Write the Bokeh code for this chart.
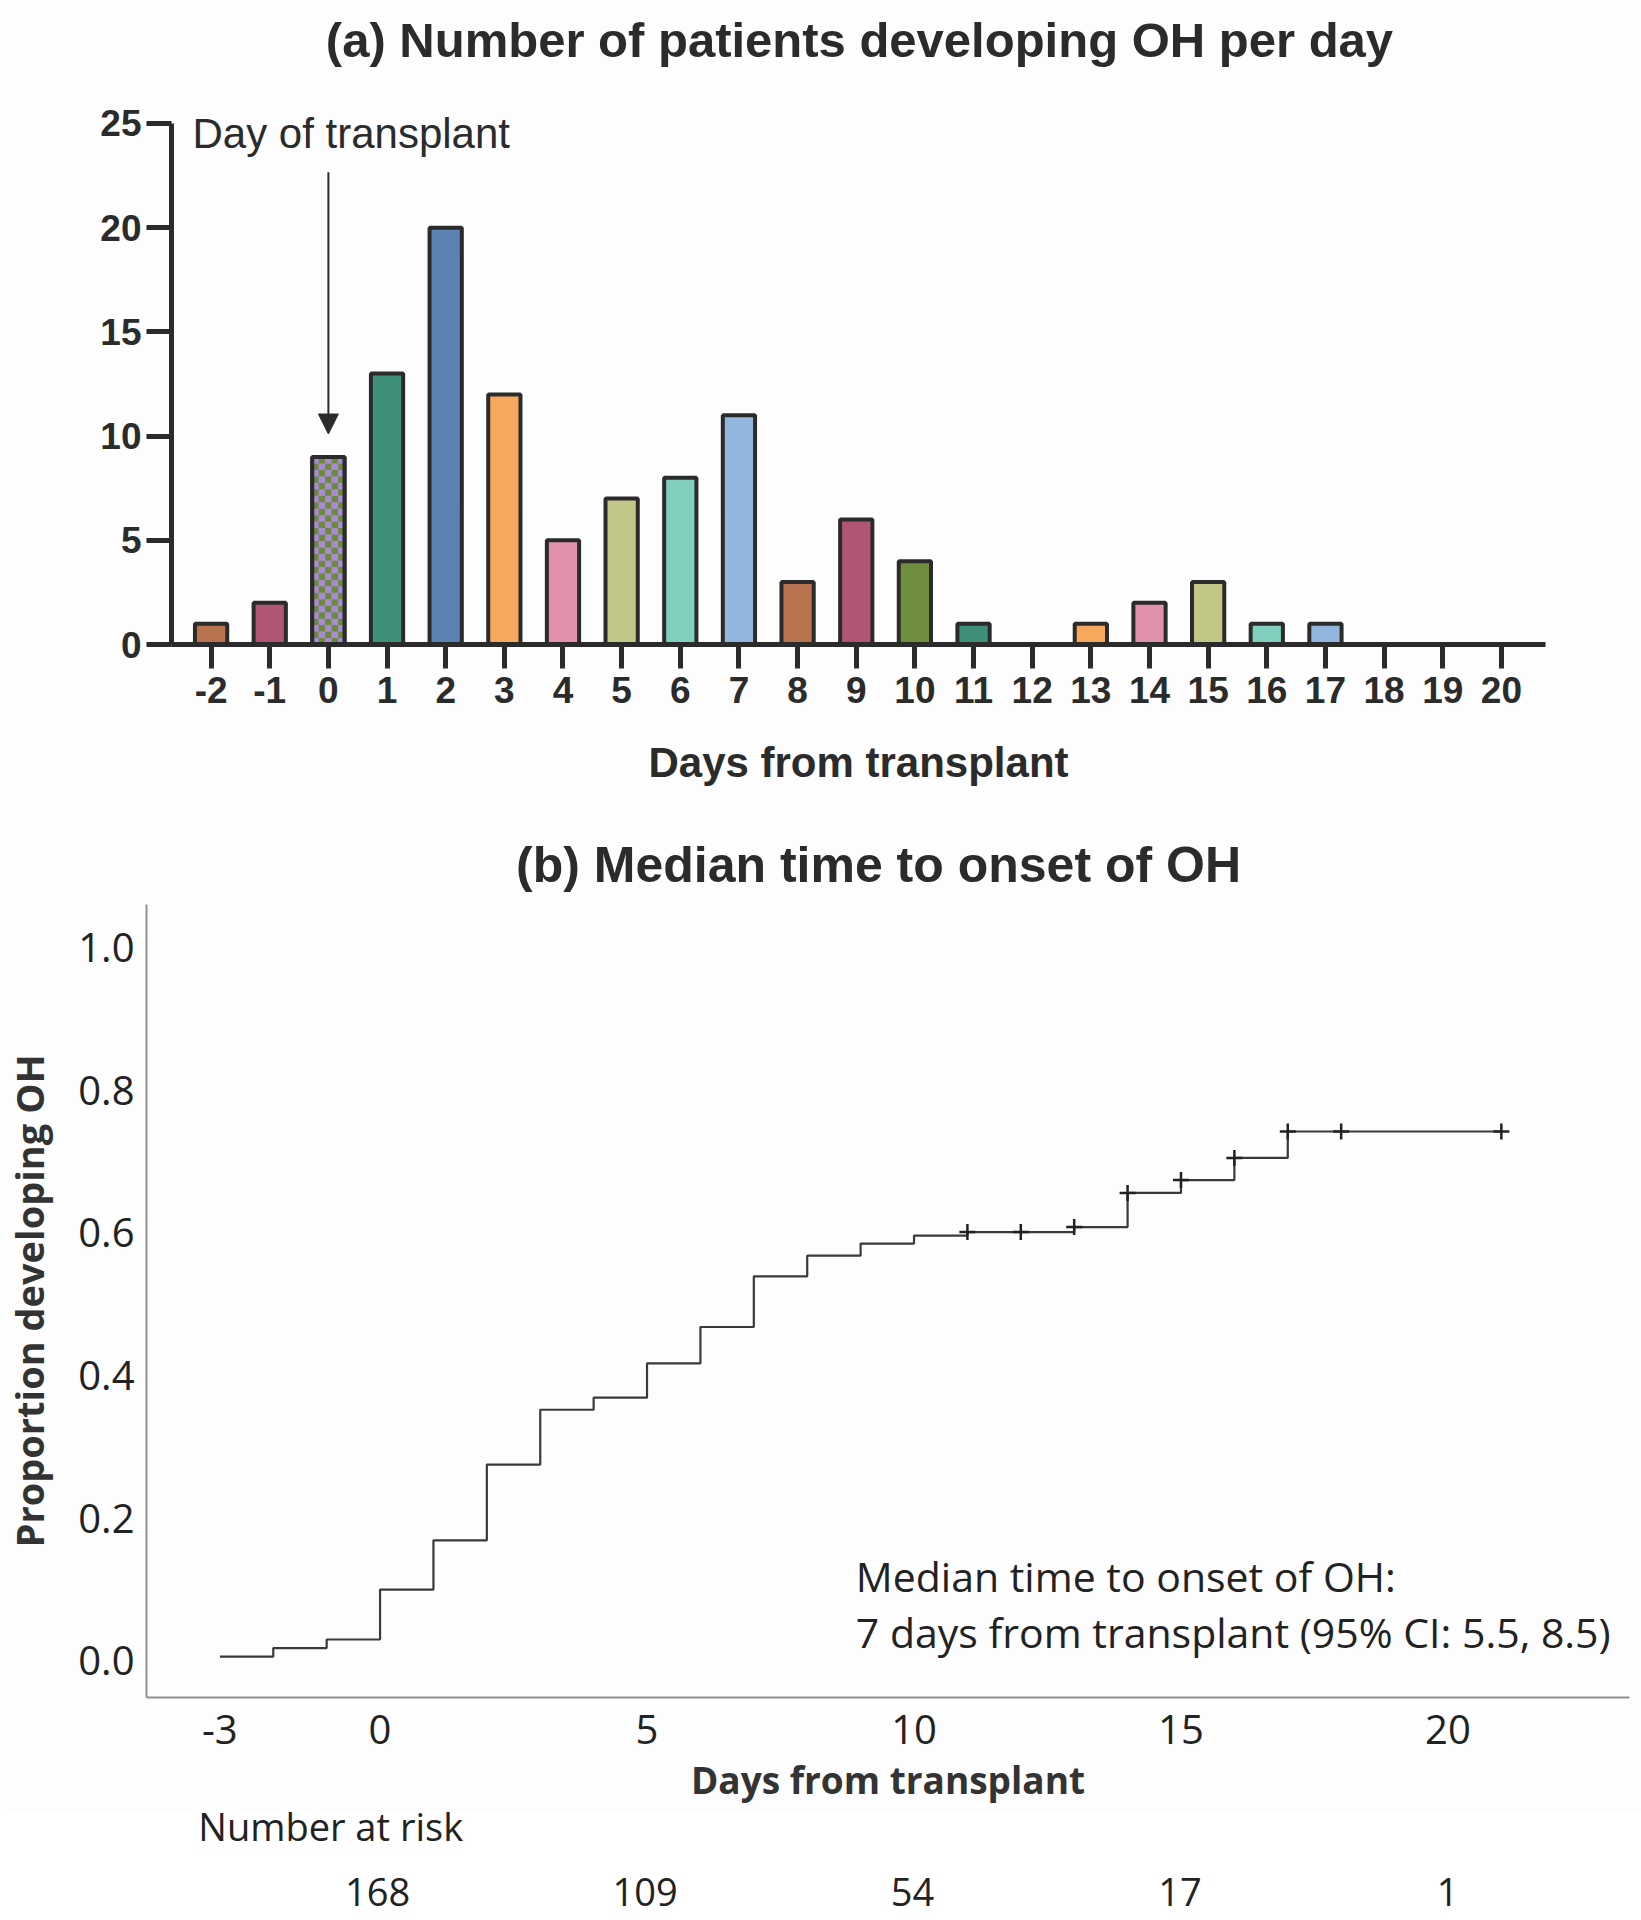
from bokeh.plotting import figure
from bokeh.models import (Range1d, FixedTicker, Label, Arrow, NormalHead,
                          ColumnDataSource, PrintfTickFormatter, CustomJSTickFormatter)
from bokeh.embed import file_html
from bokeh.resources import INLINE
from bokeh.core.properties import value

# ---------------- data ----------------
days = list(range(-2, 21))
patients = [1, 2, 9, 13, 20, 12, 5, 7, 8, 11, 3, 6, 4, 1, 0, 1, 2, 3, 1, 1, 0, 0, 0]
bar_colors = ["#b9734f", "#b15576", "#a98bd3", "#3f9079", "#5a82b2", "#f6a85d",
              "#e291ab", "#c2c686", "#81cfbf", "#93b6df", "#b9734f", "#b15576",
              "#6f8f3f", "#3f9079", "#5a82b2", "#f6a85d", "#e291ab", "#c2c686",
              "#81cfbf", "#93b6df", "#b9734f", "#b15576", "#6f8f3f"]
checker_day = 0
checker_colors = ["#a98bd3", "#6b8a3a"]

km_days = [-3, -2, -1, 0, 1, 2, 3, 4, 5, 6, 7, 8, 9, 10, 11, 13, 14, 15, 16, 17, 21]
km_prop = [0.006, 0.018, 0.030, 0.100, 0.169, 0.275, 0.352, 0.369, 0.417, 0.468,
           0.539, 0.568, 0.585, 0.596, 0.601, 0.608, 0.656, 0.674, 0.705, 0.742, 0.742]
censor_days = [11, 12, 13, 14, 15, 16, 17, 18, 21]
censor_prop = [0.601, 0.601, 0.608, 0.656, 0.674, 0.705, 0.742, 0.742, 0.742]

risk_days = [0, 5, 10, 15, 20]
risk_counts = [168, 109, 54, 17, 1]

km_xticks = [-3, 0, 5, 10, 15, 20]
km_yticks = [0.0, 0.2, 0.4, 0.6, 0.8, 1.0]
bar_yticks = [0, 5, 10, 15, 20, 25]

BG = "#fdfdfd"
DARK = "#2b2b2b"
TXT = "#222222"
SANS = "Liberation Sans"
OPEN = "Open Sans"
W = 1641

hyphen_fmt = CustomJSTickFormatter(code="return String(tick);")


def bare(fig):
    fig.grid.visible = False
    return fig


# ---------------- (a) bar chart ----------------
x0a, x1a = -2.675, 20.752
y0a, y1a = 0, 30.518
p1 = figure(width=W, height=808, x_range=Range1d(x0a, x1a), y_range=Range1d(y0a, y1a),
            output_backend="svg", toolbar_location=None, title=None,
            min_border_left=171, min_border_right=96, min_border_top=8, min_border_bottom=164,
            background_fill_color=BG, border_fill_color=BG, outline_line_color=None)
bare(p1)
p1.xaxis.ticker = FixedTicker(ticks=days, minor_ticks=[])
p1.xaxis.formatter = hyphen_fmt
p1.yaxis.ticker = FixedTicker(ticks=bar_yticks, minor_ticks=[])
p1.yaxis.bounds = (0, 25)
for ax in (p1.xaxis, p1.yaxis):
    ax.axis_line_width = 5
    ax.axis_line_color = DARK
    ax.major_tick_line_width = 5
    ax.major_tick_line_color = DARK
    ax.major_tick_in = 0
    ax.minor_tick_out = 0
    ax.minor_tick_in = 0
    ax.major_label_text_font = SANS
    ax.major_label_text_font_style = "bold"
    ax.major_label_text_font_size = "37px"
    ax.major_label_text_color = DARK
p1.xaxis.major_tick_out = 24
p1.yaxis.major_tick_out = 25
p1.xaxis.major_label_standoff = 8
p1.yaxis.major_label_standoff = 5
p1.xaxis.axis_label = "Days from transplant"
p1.xaxis.axis_label_text_font = SANS
p1.xaxis.axis_label_text_font_style = "bold"
p1.xaxis.axis_label_text_font_size = "42px"
p1.xaxis.axis_label_text_color = DARK
p1.xaxis.axis_label_standoff = 33

bw = 0.55
keep = [i for i, v in enumerate(patients) if v > 0]
src = ColumnDataSource(dict(day=[days[i] for i in keep], count=[patients[i] for i in keep],
                            color=[bar_colors[i] for i in keep]))
p1.vbar(x="day", top="count", width=bw, source=src, fill_color="color",
        line_color=DARK, line_width=4)

# checkerboard fill of the day-of-transplant bar
ci = days.index(checker_day)
ch = patients[ci]
frame_w = W - 171 - 96
frame_h = 808 - 8 - 164
px_x = frame_w / (x1a - x0a)
px_y = frame_h / (y1a - y0a)
ncols = 5
cw = bw / ncols
nrows = int(round(ch / (cw * px_x / px_y)))
chh = ch / nrows
cl, cr, cb, ct, cc = [], [], [], [], []
for r in range(nrows):
    for c in range(ncols):
        cl.append(checker_day - bw / 2 + c * cw)
        cr.append(checker_day - bw / 2 + (c + 1) * cw)
        cb.append(r * chh)
        ct.append((r + 1) * chh)
        cc.append(checker_colors[(r + c) % 2])
p1.quad(left=cl, right=cr, bottom=cb, top=ct, fill_color=cc, line_color=None)
p1.vbar(x=[checker_day], top=[ch], width=bw, fill_alpha=0, line_color=DARK, line_width=4)

p1.add_layout(Arrow(end=NormalHead(size=20, fill_color=DARK, line_color=DARK),
                    x_start=checker_day, y_start=22.66, x_end=checker_day, y_end=ch + 1.1,
                    line_width=2, line_color=DARK))
p1.add_layout(Label(x=-2.317, y=24.50, text="Day of transplant", text_font=SANS,
                    text_font_size="42px", text_color=DARK, text_baseline="middle",
                    text_align="left"))
p1.add_layout(Label(x=9.055, y=29.0, text="(a) Number of patients developing OH per day",
                    text_font=SANS, text_font_style="bold", text_font_size="49px",
                    text_color=DARK, text_baseline="middle", text_align="center"))

# ---------------- (b) title strip ----------------
x0b, x1b = -4.374, 23.40
xr_b = Range1d(x0b, x1b)
pt = figure(width=W, height=96, x_range=xr_b, y_range=Range1d(0, 96),
            output_backend="svg", toolbar_location=None, title=None,
            x_axis_location=None, y_axis_location=None,
            min_border_left=143, min_border_right=12, min_border_top=0, min_border_bottom=0,
            background_fill_color=BG, border_fill_color=BG, outline_line_color=None)
bare(pt)
pt.add_layout(Label(x=9.364, y=39.4, text="(b) Median time to onset of OH",
                    text_font=SANS, text_font_style="bold", text_font_size="50px",
                    text_color=DARK, text_baseline="middle", text_align="center"))

# ---------------- (b) Kaplan-Meier ----------------
y0b, y1b = -0.0513, 1.0602
p2 = figure(width=W, height=909, x_range=xr_b, y_range=Range1d(y0b, y1b),
            output_backend="svg", toolbar_location=None, title=None,
            min_border_left=143, min_border_right=12, min_border_top=0, min_border_bottom=116,
            background_fill_color=BG, border_fill_color=BG, outline_line_color=None)
bare(p2)
p2.xaxis.ticker = FixedTicker(ticks=km_xticks, minor_ticks=[])
p2.xaxis.formatter = hyphen_fmt
p2.yaxis.ticker = FixedTicker(ticks=km_yticks, minor_ticks=[])
p2.yaxis.formatter = PrintfTickFormatter(format="%.1f")
for ax in (p2.xaxis, p2.yaxis):
    ax.axis_line_width = 2
    ax.axis_line_color = "#8f8f8f"
    ax.major_tick_out = 0
    ax.major_tick_in = 0
    ax.minor_tick_out = 0
    ax.minor_tick_in = 0
    ax.major_label_text_font = OPEN
    ax.major_label_text_font_size = "40px"
    ax.major_label_text_color = TXT
    ax.axis_label_text_font = OPEN
    ax.axis_label_text_font_style = "bold"
    ax.axis_label_text_color = "#333333"
p2.xaxis.major_label_standoff = 17
p2.yaxis.major_label_standoff = 12
p2.xaxis.axis_label = "Days from transplant"
p2.xaxis.axis_label_text_font_size = "37px"
p2.xaxis.axis_label_standoff = 7
p2.yaxis.axis_label = "Proportion developing OH"
p2.yaxis.axis_label_text_font_size = "38px"
p2.yaxis.axis_label_standoff = 20

p2.step(km_days, km_prop, mode="after", line_width=2.2, line_color="#3a3a3a")
p2.scatter(censor_days, censor_prop, marker="cross", size=16, line_width=2.5,
           line_color=TXT)

p2.add_layout(Label(x=8.91, y=0.1185, text="Median time to onset of OH:", text_font=OPEN,
                    text_font_size="41px", text_color=TXT, text_baseline="middle"))
p2.add_layout(Label(x=8.91, y=0.0400, text="7 days from transplant (95% CI: 5.5, 8.5)",
                    text_font=OPEN, text_font_size="41px", text_color=TXT,
                    text_baseline="middle"))

# ---------------- number at risk table (overlaps p2's empty bottom strip) ----------------
overlap = 23
p3 = figure(width=W, height=103 + overlap, x_range=xr_b,
            y_range=Range1d(-0.35770, -0.18123),
            output_backend="svg", toolbar_location=None, title=None,
            x_axis_location=None, y_axis_location=None,
            min_border_left=143, min_border_right=12, min_border_top=0, min_border_bottom=0,
            background_fill_alpha=0, border_fill_alpha=0, outline_line_color=None)
p3.styles = {"margin-top": f"-{overlap}px"}
bare(p3)
p3.text(x=[-3.35], y=[-0.2310], text=["Number at risk"], text_font=value(OPEN),
        text_font_size="38px", text_color=TXT, text_baseline="middle", text_align="left")
p3.text(x=risk_days, y=[-0.3231] * len(risk_days), text=[str(v) for v in risk_counts],
        text_font=value(OPEN), text_font_size="38px", text_color=TXT,
        text_baseline="middle", text_align="center")

open("out.html", "w").write(file_html([p1, pt, p2, p3], INLINE))
